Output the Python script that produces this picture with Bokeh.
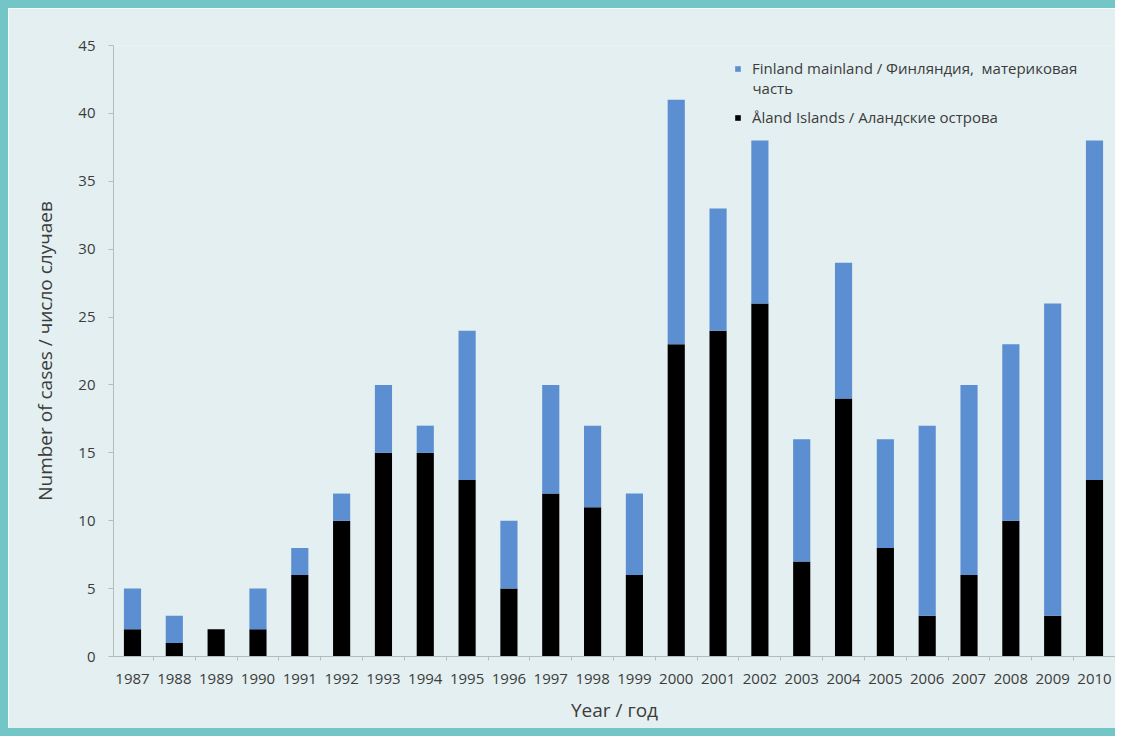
from bokeh.plotting import figure
from bokeh.models import Legend, LegendItem, FixedTicker, ColumnDataSource, Label
from bokeh.embed import file_html
from bokeh.resources import INLINE

years = list(range(1987, 2011))
aland = [2, 1, 2, 2, 6, 10, 15, 15, 13, 5, 12, 11, 6, 23, 24, 26, 7, 19, 8, 3, 6, 10, 3, 13]
totals = [5, 3, 2, 5, 8, 12, 20, 17, 24, 10, 20, 17, 12, 41, 33, 38, 16, 29, 16, 17, 20, 23, 26, 38]
mainland = [t - a for t, a in zip(totals, aland)]
y_ticks = list(range(0, 50, 5))

src = ColumnDataSource(dict(year=years, aland=aland, mainland=mainland))

BG = "#e3eff0"
BLUE = "#5b8fd1"
TXT = "#3c3c3c"
AXC = "#b4bcbc"
FONT = "Open Sans"

p = figure(width=1115, height=736, output_backend="svg", toolbar_location=None,
           x_range=(1986.546, 2010.502), y_range=(0, 45),
           min_border_left=105, min_border_right=8, min_border_top=37, min_border_bottom=88)
p.styles = {"border-left": "8px solid #72c6c6", "border-top": "8px solid #72c6c6",
            "border-bottom": "8px solid #72c6c6"}
p.background_fill_color = BG
p.border_fill_color = BG
p.outline_line_color = None
p.grid.visible = False

r = p.vbar_stack(["aland", "mainland"], x="year", width=0.41, source=src,
                 color=["#000000", BLUE], line_color=None)

p.xaxis.ticker = FixedTicker(ticks=years, minor_ticks=[y - 0.5 for y in years] + [years[-1] + 0.5])
p.yaxis.ticker = FixedTicker(ticks=y_ticks)
for ax in (p.xaxis, p.yaxis):
    ax.axis_line_color = AXC
    ax.major_label_text_font = FONT
    ax.major_label_text_font_size = "15px"
    ax.major_label_text_color = TXT
    ax.axis_label_text_font = FONT
    ax.axis_label_text_font_size = "19px"
    ax.axis_label_text_font_style = "normal"
    ax.axis_label_text_color = TXT
p.yaxis.minor_tick_line_color = None
p.xaxis.major_tick_line_color = None
p.xaxis.minor_tick_line_color = AXC
p.xaxis.minor_tick_in = 0
p.xaxis.minor_tick_out = 4
p.yaxis.major_tick_line_color = AXC
p.yaxis.major_tick_in = 0
p.yaxis.major_tick_out = 5
p.xaxis.major_label_standoff = 11
p.yaxis.major_label_standoff = 13
p.xaxis.axis_label = "Year / год"
p.yaxis.axis_label = "Number of cases / число случаев"
p.xaxis.axis_label_standoff = 10
p.yaxis.axis_label_standoff = 17

legend = Legend(items=[
    LegendItem(label="Finland mainland / Финляндия,  материковая", renderers=[r[1]]),
    LegendItem(label="Åland Islands / Аландские острова", renderers=[r[0]]),
], location=(621, 529))
legend.background_fill_alpha = 0
legend.border_line_color = None
legend.label_text_font = FONT
legend.label_text_font_size = "15px"
legend.label_text_color = TXT
legend.glyph_width = 7
legend.glyph_height = 7
legend.spacing = 29
legend.label_standoff = 11
p.add_layout(legend)

p.add_layout(Label(x=639, y=569, x_units="screen", y_units="screen", text="часть",
                   text_font=FONT, text_font_size="15px", text_color=TXT,
                   text_baseline="middle"))

open("out.html", "w").write(file_html(p, INLINE))
